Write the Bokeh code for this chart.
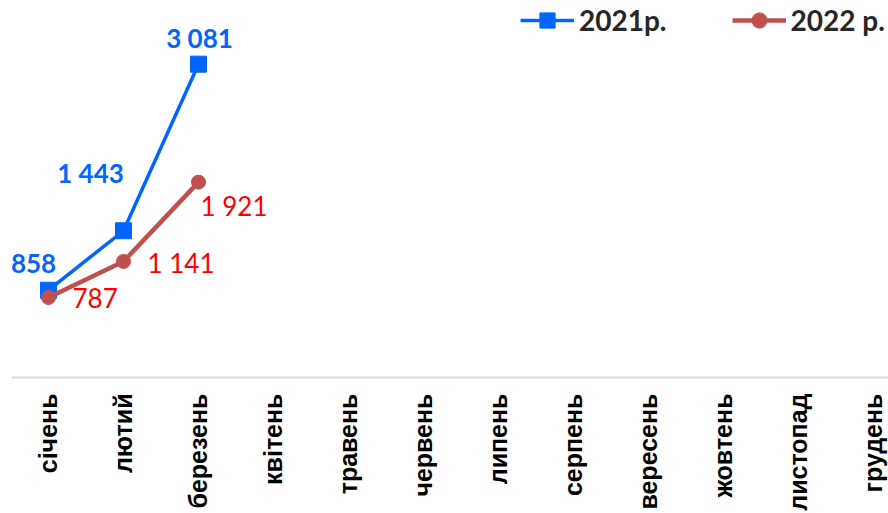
import math
from bokeh.plotting import figure
from bokeh.models import Range1d, FixedTicker, Legend, LegendItem
from bokeh.embed import file_html
from bokeh.resources import INLINE
from bokeh.core.properties import value

months = ["січень", "лютий", "березень", "квітень", "травень", "червень",
          "липень", "серпень", "вересень", "жовтень", "листопад", "грудень"]
values_2021 = [858, 1443, 3081]
values_2022 = [787, 1141, 1921]
series_names = ["2021р.", "2022 р."]

BLUE = "#0066FF"
RED_LINE = "#C0504D"
RED_TEXT = "#FF0000"

p = figure(frame_width=877, frame_height=377, output_backend="svg", toolbar_location=None,
           x_range=Range1d(-0.4933, 11.2), y_range=Range1d(0, 3707),
           min_border_left=11, min_border_right=0, min_border_top=0, min_border_bottom=0,
           outline_line_color=None, y_axis_location=None, background_fill_color="white")

p.xgrid.visible = False
p.ygrid.visible = False

ax = p.xaxis[0]
ax.ticker = FixedTicker(ticks=list(range(len(months))))
ax.major_label_overrides = {i: m for i, m in enumerate(months)}
ax.major_label_orientation = math.pi / 2
ax.major_label_text_font = "Liberation Sans"
ax.major_label_text_font_style = "bold"
ax.major_label_text_font_size = "25px"
ax.major_label_text_color = "#000000"
ax.major_label_standoff = 16
ax.major_tick_line_color = None
ax.minor_tick_line_color = None
ax.major_tick_out = 0
ax.major_tick_in = 0
ax.axis_line_color = "#D9D9D9"
ax.axis_line_width = 2

x21 = list(range(len(values_2021)))
x22 = list(range(len(values_2022)))

l1 = p.line(x21, values_2021, line_color=BLUE, line_width=3.5)
s1 = p.scatter(x21, values_2021, marker="square", size=16, fill_color=BLUE, line_color=BLUE)
l2 = p.line(x22, values_2022, line_color=RED_LINE, line_width=4.5)
s2 = p.scatter(x22, values_2022, marker="circle", size=14, fill_color=RED_LINE, line_color=RED_LINE)


def fmt(v):
    return f"{v:,}".replace(",", " ")


off_2021 = [(-15, -27), (-33, -58), (1, -26)]
off_2022 = [(24, 1), (24, 2), (2, 24)]

for i, v in enumerate(values_2021):
    p.text(x=[x21[i]], y=[v], text=[fmt(v)], x_offset=off_2021[i][0], y_offset=off_2021[i][1],
           text_align="center", text_baseline="middle", text_font=value("Lato"),
           text_font_style="bold", text_font_size="26px", text_color=BLUE)

for i, v in enumerate(values_2022):
    p.text(x=[x22[i]], y=[v], text=[fmt(v)], x_offset=off_2022[i][0], y_offset=off_2022[i][1],
           text_align="left", text_baseline="middle", text_font=value("Lato"),
           text_font_size="26px", text_color=RED_TEXT)

legend = Legend(items=[LegendItem(label=series_names[0], renderers=[l1, s1]),
                       LegendItem(label=series_names[1], renderers=[l2, s2])],
                orientation="horizontal", location=(509, 338),
                glyph_width=54, glyph_height=38, label_standoff=5, spacing=65,
                padding=0, margin=0, border_line_color=None, background_fill_alpha=0,
                label_text_font="Lato", label_text_font_style="bold",
                label_text_font_size="28px", label_text_color="#262626",
                label_height=30)
p.add_layout(legend)

open("out.html", "w").write(file_html(p, INLINE))
